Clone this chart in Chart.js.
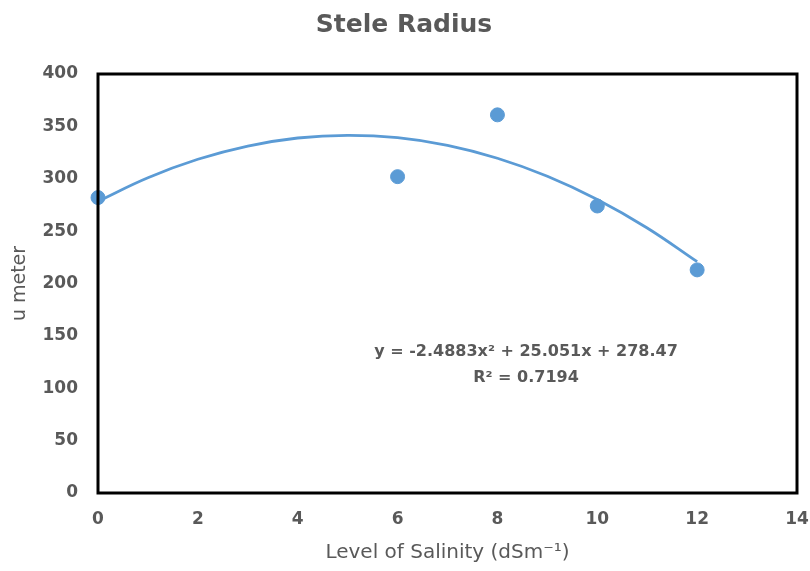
<!DOCTYPE html>
<html><head><meta charset="utf-8">
<script src="https://cdn.jsdelivr.net/npm/chart.js@4"></script>
<style>html,body{margin:0;padding:0;background:#fff}#wrap{width:810px;height:571px}</style>
</head><body><div id="wrap"><canvas id="c" width="810" height="571"></canvas></div>
<script>
const salinity = [0, 6, 8, 10, 12];
const steleRadius = [282, 302, 361, 274, 213];
const trendX = [0, 1, 2, 3, 4, 5, 6, 7, 8, 9, 10, 11, 12];
const trendY = [278.5, 301.0, 318.6, 331.2, 338.9, 341.5, 339.2, 331.9, 319.6, 302.4, 280.2, 253.0, 220.8];
const yTicks = [0, 50, 100, 150, 200, 250, 300, 350, 400];
const xTicks = [0, 2, 4, 6, 8, 10, 12, 14];
const titleText = 'Stele Radius';
const xTitle = 'Level of Salinity (dSm\u207B\u00B9)';
const yTitle = 'u meter';
const eqText = 'y = -2.4883x\u00B2 + 25.051x + 278.47';
const r2Text = 'R\u00B2 = 0.7194';

const blue = '#5B9BD5';
const grey = '#595959';
const FONT = '"DejaVu Sans", sans-serif';

const extras = {
  id: 'extras',
  afterDatasetsDraw(chart) {
    const ctx = chart.ctx, a = chart.chartArea;
    ctx.save();
    ctx.strokeStyle = '#000';
    ctx.lineWidth = 3;
    ctx.strokeRect(a.left, a.top, a.right - a.left, a.bottom - a.top);
    ctx.restore();
  },
  afterDraw(chart) {
    const ctx = chart.ctx;
    ctx.save();
    ctx.fillStyle = grey;
    ctx.textAlign = 'center';
    ctx.textBaseline = 'middle';
    ctx.font = 'bold 25px ' + FONT;
    ctx.fillText(titleText, 404, 25);
    ctx.font = 'bold 16px ' + FONT;
    ctx.fillText(eqText, 526, 352);
    ctx.fillText(r2Text, 526, 378);
    ctx.restore();
  }
};

new Chart(document.getElementById('c'), {
  type: 'scatter',
  data: {
    datasets: [
      {
        label: 'Stele Radius',
        data: salinity.map((x, i) => ({x, y: steleRadius[i]})),
        backgroundColor: blue,
        borderColor: blue,
        pointRadius: 7,
        pointHoverRadius: 7,
        clip: false,
        order: 1
      },
      {
        label: 'Trend',
        type: 'line',
        data: trendX.map((x, i) => ({x, y: trendY[i]})),
        borderColor: blue,
        borderWidth: 2.8,
        pointRadius: 0,
        tension: 0.4,
        fill: false,
        clip: false,
        order: 2
      }
    ]
  },
  options: {
    responsive: false,
    animation: false,
    events: [],
    layout: { padding: { top: 74, right: 13, left: 0, bottom: 0 } },
    plugins: { legend: { display: false }, title: { display: false }, tooltip: { enabled: false } },
    scales: {
      x: {
        type: 'linear', min: 0, max: 14,
        afterBuildTicks: s => { s.ticks = xTicks.map(v => ({value: v})); },
        afterFit: s => { s.height = 78; s.paddingLeft = 0; s.paddingRight = 0; },
        grid: { display: false, drawTicks: false },
        border: { display: false },
        ticks: { padding: 16, color: grey, font: { family: FONT, size: 17, weight: 'bold' } },
        title: { display: true, text: xTitle, color: grey, padding: { top: 4, bottom: 6 }, font: { family: FONT, size: 20, weight: 'normal' } }
      },
      y: {
        type: 'linear', min: 0, max: 400,
        afterBuildTicks: s => { s.ticks = yTicks.map(v => ({value: v})); },
        afterFit: s => { s.width = 98; },
        grid: { display: false, drawTicks: false },
        border: { display: false },
        ticks: { padding: 20, color: grey, font: { family: FONT, size: 17, weight: 'bold' } },
        title: { display: true, text: yTitle, color: grey, padding: { top: 9, bottom: 4 }, font: { family: FONT, size: 19, weight: 'normal' } }
      }
    }
  },
  plugins: [extras]
});
</script></body></html>
